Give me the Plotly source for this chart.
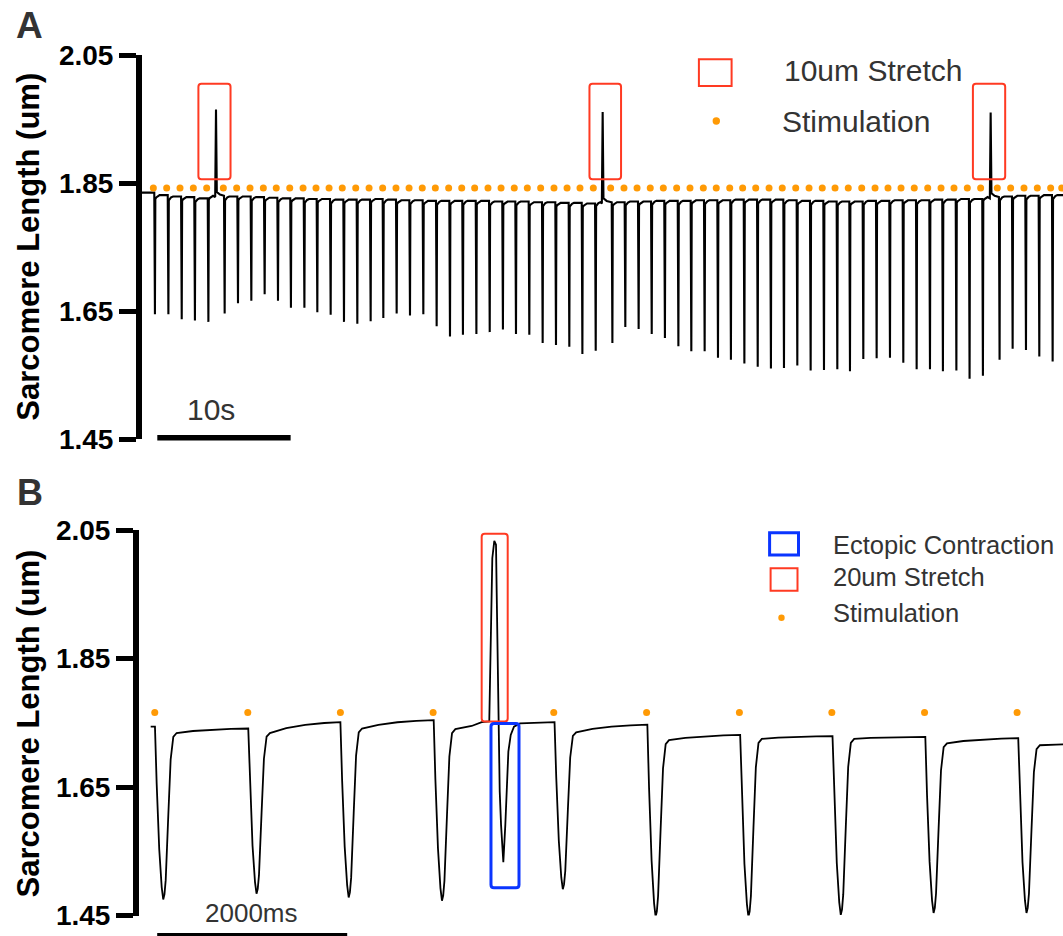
import plotly.graph_objects as go

# ------------------------------------------------------------------ data
# Panel A (time in s, sarcomere length in um)
beat_t_a = [0.92, 1.93, 2.93, 3.92, 4.93,
            6.15, 7.15, 8.15, 9.15, 10.15, 11.12, 12.13, 13.10, 14.10, 15.10,
            16.10, 17.10, 18.05, 19.05, 20.05, 21.05, 22.05, 23.05, 24.02, 25.03,
            26.03, 27.02, 28.00, 29.00, 30.00, 31.00, 32.00, 32.98, 33.98,
            35.23, 36.20, 37.20, 38.18, 39.17, 40.18, 41.15, 42.15, 43.15, 44.12,
            45.13, 46.13, 47.12, 48.10, 49.10, 50.10, 51.10, 52.10, 53.05, 54.05,
            55.05, 56.05, 57.05, 58.05, 59.05, 60.02, 61.03, 62.02, 63.02,
            64.27, 65.25, 66.25, 67.25, 68.25]
beat_min_a = [1.645, 1.645, 1.637, 1.635, 1.633,
              1.646, 1.662, 1.666, 1.676, 1.666, 1.655, 1.655, 1.648, 1.644, 1.633,
              1.630, 1.634, 1.639, 1.646, 1.643, 1.645, 1.626, 1.610, 1.613, 1.614,
              1.617, 1.621, 1.614, 1.613, 1.600, 1.597, 1.594, 1.583, 1.588,
              1.600, 1.625, 1.622, 1.614, 1.608, 1.595, 1.587, 1.587, 1.577, 1.574,
              1.568, 1.563, 1.560, 1.561, 1.565, 1.557, 1.558, 1.559, 1.556, 1.575,
              1.576, 1.577, 1.569, 1.559, 1.559, 1.556, 1.557, 1.544, 1.549,
              1.574, 1.591, 1.589, 1.579, 1.571]
base_a = [1.835, 1.831, 1.829, 1.828, 1.826,
          1.830, 1.829, 1.829, 1.828, 1.827, 1.826, 1.826, 1.825, 1.825, 1.824,
          1.824, 1.824, 1.825, 1.824, 1.823, 1.823, 1.822, 1.822, 1.822, 1.822,
          1.822, 1.821, 1.821, 1.821, 1.820, 1.820, 1.819, 1.819, 1.818,
          1.820, 1.820, 1.821, 1.821, 1.822, 1.822, 1.822, 1.823, 1.823, 1.823,
          1.824, 1.824, 1.824, 1.824, 1.823, 1.822, 1.822, 1.821, 1.821, 1.821,
          1.822, 1.822, 1.823, 1.823, 1.823, 1.824, 1.824, 1.825, 1.825,
          1.828, 1.829, 1.830, 1.830, 1.831]
end_base_a = 1.831
stretch_t_a = [5.55, 34.55, 63.65]
stretch_peak_a = [1.965, 1.961, 1.960]
stim_t_a = [0.85, 1.85, 2.85, 3.85, 4.85, 6.10, 7.10, 8.10, 9.10, 10.07, 11.08,
            12.08, 13.05, 14.03, 15.02, 16.03, 17.03, 18.05, 19.05, 20.03, 21.02,
            22.00, 23.00, 23.98, 24.95, 25.95, 26.93, 27.92, 28.90, 29.90, 30.90,
            31.88, 32.85, 33.85, 35.15, 36.15, 37.13, 38.12, 39.10, 40.10, 41.10,
            42.10, 43.07, 44.08, 45.05, 46.03, 47.03, 48.02, 49.03, 50.03, 51.02,
            51.98, 52.97, 53.98, 54.98, 55.95, 56.93, 57.92, 58.93, 59.93, 60.90,
            61.90, 62.90, 64.15, 65.15, 66.15, 67.15, 68.15, 68.98]
stim_level_a = 1.842
box_t0_a = [4.23, 33.56, 62.32]
box_t1_a = [6.64, 35.93, 64.74]
box_lo_a, box_hi_a = 1.856, 2.005
scale_a_s = 10

# Panel B (time in ms)
beat_ms_b = [168, 1150, 2120, 3102, 4374, 5351, 6328, 7300, 8277, 9255]
min_b = [1.475, 1.484, 1.478, 1.473, 1.491, 1.448, 1.448, 1.451, 1.454, 1.454]
base_b = [1.744, 1.741, 1.751, 1.754, 1.751, 1.747, 1.731, 1.729, 1.728, 1.726]
early_b = [1.734, 1.734, 1.741, 1.740, 1.735, 1.723, 1.725, 1.725, 1.718, 1.715]
start_ms_b = 123
end_base_b = 1.717
stretch_ms_b = [3607, 3687, 3695, 3705, 3719, 3740, 3758, 3765, 3776, 3786,
                3797, 3811, 3835, 3856, 3871, 3888, 3913, 3947, 4011]
stretch_um_b = [1.751, 1.752, 1.824, 1.928, 2.006, 2.033, 2.027, 1.954, 1.850,
                1.746, 1.643, 1.591, 1.533, 1.591, 1.653, 1.705, 1.731, 1.744, 1.749]
stim_ms_b = [166, 1145, 2120, 3096, 4366, 5343, 6320, 7293, 8269, 9243]
stim_level_b = 1.766
red_box_b = (3607, 3881, 1.752, 2.044)
blue_box_b = (3705, 4000, 1.493, 1.749)
scale_b_ms = 2000

y_ticks = [1.45, 1.65, 1.85, 2.05]
y_ticktext = ["1.45", "1.65", "1.85", "2.05"]

# ------------------------------------------------------------------ layout constants
W, H = 1063, 936
FONT = "Liberation Sans, Arial, sans-serif"
ORANGE = "#ff9a05"
RED = "#ff3a22"
BLUE = "#0a35ff"
GREY = "#333333"

XA0 = 142 / W
XB0 = 139 / W
PX_PER_S_A = 13.333
PX_PER_MS_B = 0.095
X_MAX_A = (W - 142) / PX_PER_S_A
X_MAX_B = (W - 139) / PX_PER_MS_B
PX_PER_UM_A = 640.0
PX_PER_UM_B = 642.5


def py(p):
    return 1 - p / H


def px(p):
    return p / W


def rrect(x0, x1, y0, y1, rx, ry):
    return (f"M{x0 + rx},{y0} L{x1 - rx},{y0} Q{x1},{y0} {x1},{y0 + ry} "
            f"L{x1},{y1 - ry} Q{x1},{y1} {x1 - rx},{y1} L{x0 + rx},{y1} "
            f"Q{x0},{y1} {x0},{y1 - ry} L{x0},{y0 + ry} Q{x0},{y0} {x0 + rx},{y0} Z")


# ------------------------------------------------------------------ build traces
# twitch shape template (A, seconds)
RISE_OFF_A = [0.08, 0.15, 0.25, 0.40]
RISE_DV_A = [0.006, 0.0035, 0.0015, 0.0]

ta, ya = [0.0], [base_a[0]]
n = len(beat_t_a)
for i in range(n):
    tb, b, m = beat_t_a[i], base_a[i], beat_min_a[i]
    nb = base_a[i + 1] if i + 1 < n else end_base_a
    tn = beat_t_a[i + 1] if i + 1 < n else X_MAX_A + 1
    ta += [tb, tb + 0.05]
    ya += [b, m]
    for off, dv in zip(RISE_OFF_A, RISE_DV_A):
        ta.append(tb + off)
        ya.append(nb - dv)
    for s_t, s_p in zip(stretch_t_a, stretch_peak_a):
        if tb < s_t < tn:
            ta += [s_t - 0.06, s_t, s_t + 0.06, s_t + 0.3]
            ya += [nb - 0.002, s_p, nb + 0.006, nb + 0.002]
ta.append(X_MAX_A + 1)
ya.append(end_base_a)

# twitch shape template (B, ms)
DESC_OFF_B = [0, 18, 45, 71, 87]
DESC_F_B = [0, 0.33, 0.71, 0.93, 1.0]
RISE_OFF_B = [100, 113, 140, 165, 193, 228]
RISE_F_B = [0.97, 0.884, 0.50, 0.16, 0.023, 0.0]
PLAT_OFF_B = [400, 600, 800]
PLAT_F_B = [0.45, 0.75, 0.92]

tbb, ybb = [start_ms_b], [base_b[0]]
nbeats = len(beat_ms_b)
for i in range(nbeats):
    d, b, m, e = beat_ms_b[i], base_b[i], min_b[i], early_b[i]
    nxt_t = beat_ms_b[i + 1] if i + 1 < nbeats else X_MAX_B + 200
    nxt_b = base_b[i + 1] if i + 1 < nbeats else end_base_b
    has_stretch = d < stretch_ms_b[0] < nxt_t
    if has_stretch:
        nxt_t, nxt_b = stretch_ms_b[0], stretch_um_b[0]
    for off, f in zip(DESC_OFF_B, DESC_F_B):
        tbb.append(d + off)
        ybb.append(b - f * (b - m))
    for off, f in zip(RISE_OFF_B, RISE_F_B):
        tbb.append(d + off)
        ybb.append(e - f * (e - m))
    for off, f in zip(PLAT_OFF_B, PLAT_F_B):
        if d + off < nxt_t - 20:
            tbb.append(d + off)
            ybb.append(e + f * (nxt_b - e))
    if has_stretch:
        tbb += stretch_ms_b
        ybb += stretch_um_b
tbb.append(X_MAX_B + 200)
ybb.append(end_base_b)

fig = go.Figure()
fig.add_trace(go.Scatter(x=ta, y=ya, mode="lines", xaxis="x", yaxis="y",
                         line=dict(color="black", width=2.1), hoverinfo="skip"))
fig.add_trace(go.Scatter(x=stim_t_a, y=[stim_level_a] * len(stim_t_a), mode="markers",
                         xaxis="x", yaxis="y",
                         marker=dict(color=ORANGE, size=7), hoverinfo="skip"))
fig.add_trace(go.Scatter(x=tbb, y=ybb, mode="lines", xaxis="x2", yaxis="y2",
                         line=dict(color="black", width=1.8), hoverinfo="skip"))
fig.add_trace(go.Scatter(x=stim_ms_b, y=[stim_level_b] * len(stim_ms_b), mode="markers",
                         xaxis="x2", yaxis="y2",
                         marker=dict(color=ORANGE, size=7), hoverinfo="skip"))

yax = dict(range=[1.45, 2.05], tickvals=y_ticks, ticktext=y_ticktext,
           showline=True, linewidth=6, linecolor="black", ticks="outside",
           ticklen=17, tickwidth=5, tickcolor="black", showgrid=False,
           zeroline=False, fixedrange=True, automargin=False,
           tickfont=dict(family=FONT, size=28, color="black", weight="bold"))

fig.update_layout(
    template="none",
    width=W, height=H, autosize=False,
    margin=dict(l=0, r=0, t=0, b=0, pad=0, autoexpand=False),
    paper_bgcolor="white", plot_bgcolor="white", showlegend=False,
    xaxis=dict(domain=[XA0, 1], range=[0, X_MAX_A], visible=False,
               fixedrange=True, automargin=False),
    yaxis=dict(domain=[py(439), py(55)], anchor="x", **yax),
    xaxis2=dict(domain=[XB0, 1], range=[0, X_MAX_B], visible=False,
                fixedrange=True, automargin=False),
    yaxis2=dict(domain=[py(915.5), py(530)], anchor="x2", **yax),
)

shapes = []
# highlight boxes (rounded corners, ~3 px radius)
rxa, rya = 3 / PX_PER_S_A, 3 / PX_PER_UM_A
for t0, t1 in zip(box_t0_a, box_t1_a):
    shapes.append(dict(type="path", xref="x", yref="y",
                       path=rrect(t0, t1, box_lo_a, box_hi_a, rxa, rya),
                       line=dict(color=RED, width=2)))
rxb, ryb = 3 / PX_PER_MS_B, 3 / PX_PER_UM_B
shapes.append(dict(type="path", xref="x2", yref="y2",
                   path=rrect(red_box_b[0], red_box_b[1], red_box_b[2], red_box_b[3], rxb, ryb),
                   line=dict(color=RED, width=2)))
shapes.append(dict(type="path", xref="x2", yref="y2",
                   path=rrect(blue_box_b[0], blue_box_b[1], blue_box_b[2], blue_box_b[3], rxb, ryb),
                   line=dict(color=BLUE, width=3)))
# scale bars
sa0 = (157.3 - 142) / PX_PER_S_A
shapes.append(dict(type="line", xref="x", yref="paper", x0=sa0, x1=sa0 + scale_a_s,
                   y0=py(437.8), y1=py(437.8), line=dict(color="black", width=5.5)))
sb0 = (157.2 - 139) / PX_PER_MS_B
shapes.append(dict(type="line", xref="x2", yref="paper", x0=sb0, x1=sb0 + scale_b_ms,
                   y0=py(934.5), y1=py(934.5), line=dict(color="black", width=3)))
# legend symbols
shapes.append(dict(type="rect", xref="paper", yref="paper", x0=px(698.9), x1=px(731.6),
                   y0=py(86), y1=py(59.3), line=dict(color=RED, width=2)))
shapes.append(dict(type="circle", xref="paper", yref="paper", x0=px(716.3 - 3.7), x1=px(716.3 + 3.7),
                   y0=py(121 + 3.7), y1=py(121 - 3.7), fillcolor=ORANGE, line=dict(width=0)))
shapes.append(dict(type="rect", xref="paper", yref="paper", x0=px(769.6), x1=px(798.5),
                   y0=py(555), y1=py(532.7), line=dict(color=BLUE, width=3)))
shapes.append(dict(type="rect", xref="paper", yref="paper", x0=px(770.6), x1=px(797.5),
                   y0=py(590.7), y1=py(568.3), line=dict(color=RED, width=2)))
shapes.append(dict(type="circle", xref="paper", yref="paper", x0=px(781.5 - 3.2), x1=px(781.5 + 3.2),
                   y0=py(617.7 + 3.2), y1=py(617.7 - 3.2), fillcolor=ORANGE, line=dict(width=0)))

annotations = []


def txt(text, x, y, size, color=GREY, bold=False, xanchor="center", angle=0):
    annotations.append(dict(text=text, x=px(x), y=py(y), xref="paper", yref="paper",
                            xanchor=xanchor, yanchor="middle", showarrow=False,
                            textangle=angle,
                            font=dict(family=FONT, size=size, color=color,
                                      weight="bold" if bold else "normal")))


txt("A", 29.3, 25, 37, GREY, True)
txt("B", 29.6, 492.5, 36, GREY, True)
txt("Sarcomere Length (um)", 28.7, 247, 31, "black", True, angle=-90)
txt("Sarcomere Length (um)", 27.5, 724, 31, "black", True, angle=-90)
txt("10s", 211.3, 409.5, 30)
txt("2000ms", 251, 912.5, 26)
txt("10um Stretch", 781.5, 71, 30, xanchor="left")
txt("Stimulation", 779.8, 121.7, 30, xanchor="left")
txt("Ectopic Contraction", 830.8, 545, 25.5, xanchor="left")
txt("20um Stretch", 830.8, 577.3, 25.5, xanchor="left")
txt("Stimulation", 830.8, 613.3, 25.5, xanchor="left")

fig.update_layout(shapes=shapes, annotations=annotations)

fig.write_html("out.html", config={"displayModeBar": False, "staticPlot": True},
               post_script="document.body.style.margin='0';document.body.style.overflow='hidden';")
